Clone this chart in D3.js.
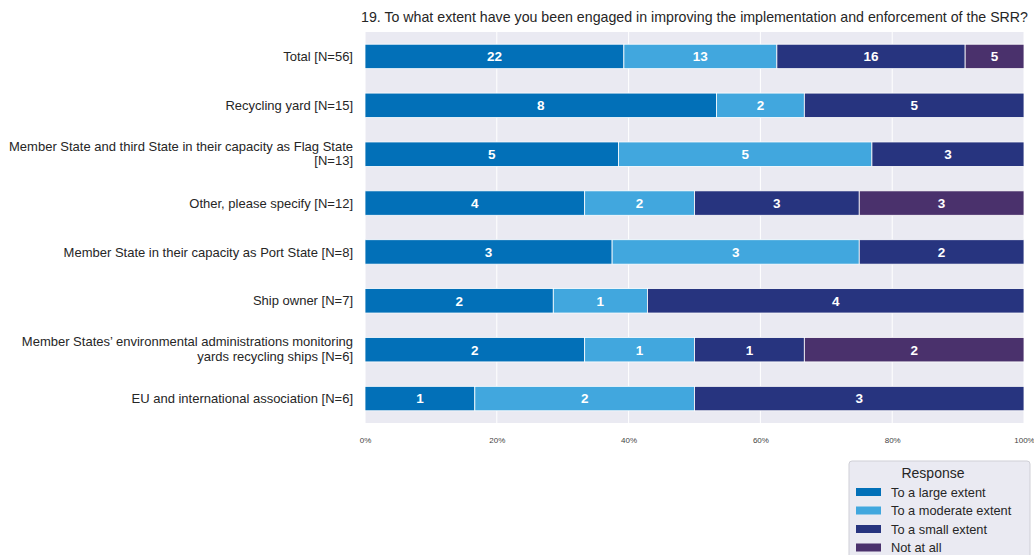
<!DOCTYPE html>
<html>
<head>
<meta charset="utf-8">
<script src="https://cdn.jsdelivr.net/npm/d3@7"></script>
<style>
  html, body { margin: 0; padding: 0; background: #fff; }
  svg { display: block; font-family: "Liberation Sans", Arial, sans-serif; }
</style>
</head>
<body>
<svg id="chart" width="1034" height="555"></svg>
<script>
// Survey groups, top to bottom
const categories = [
  ["Total [N=56]"],
  ["Recycling yard [N=15]"],
  ["Member State and third State in their capacity as Flag State", "[N=13]"],
  ["Other, please specify [N=12]"],
  ["Member State in their capacity as Port State [N=8]"],
  ["Ship owner [N=7]"],
  ["Member States’ environmental administrations monitoring", "yards recycling ships [N=6]"],
  ["EU and international association [N=6]"]
];
const responses = ["To a large extent", "To a moderate extent", "To a small extent", "Not at all"];
// Response counts per group (same order as responses)
const largeExtent    = [22, 8, 5, 4, 3, 2, 2, 1];
const moderateExtent = [13, 2, 5, 2, 3, 1, 1, 2];
const smallExtent    = [16, 5, 3, 3, 2, 4, 1, 3];
const notAtAll       = [ 5, 0, 0, 3, 0, 0, 2, 0];
const xTicks = [0, 0.2, 0.4, 0.6, 0.8, 1.0];
const colors = ["#0270b8", "#41a7de", "#27347f", "#4a316c"];
const title = "19. To what extent have you been engaged in improving the implementation and enforcement of the SRR?";

const series = [largeExtent, moderateExtent, smallExtent, notAtAll];
const rows = categories.map((c, i) => {
  const counts = series.map(s => s[i]);
  const total = d3.sum(counts);
  return { key: i, label: c, counts, total };
});

const svg = d3.select("#chart");
const m = { left: 365, right: 1024, top: 32, bottom: 423 };

const x = d3.scaleLinear().domain([0, 1]).range([m.left, m.right]);
const y = d3.scaleBand().domain(rows.map(r => r.key)).range([m.top, m.bottom]).paddingInner(0.5).paddingOuter(0.25);

// plot background
svg.append("rect")
  .attr("x", m.left).attr("y", m.top)
  .attr("width", m.right - m.left).attr("height", m.bottom - m.top)
  .attr("fill", "#eaeaf2");

// vertical grid lines
svg.append("g").selectAll("line").data(xTicks).join("line")
  .attr("x1", d => x(d)).attr("x2", d => x(d))
  .attr("y1", m.top).attr("y2", m.bottom)
  .attr("stroke", "#fff").attr("stroke-width", 1);

// stacked bars
const stackData = rows.map(r => {
  let acc = 0;
  return r.counts.map((v, j) => {
    const seg = { row: r.key, j, v, x0: acc / r.total, x1: (acc + v) / r.total };
    acc += v;
    return seg;
  }).filter(s => s.v > 0);
}).flat();

const segs = svg.append("g").selectAll("g").data(stackData).join("g");
segs.append("rect")
  .attr("x", d => x(d.x0))
  .attr("y", d => y(d.row))
  .attr("width", d => x(d.x1) - x(d.x0))
  .attr("height", y.bandwidth())
  .attr("fill", d => colors[d.j])
  .attr("stroke", "#fff").attr("stroke-width", 0.8);
segs.append("text")
  .attr("x", d => (x(d.x0) + x(d.x1)) / 2)
  .attr("y", d => y(d.row) + y.bandwidth() / 2)
  .attr("dy", "0.36em")
  .attr("text-anchor", "middle")
  .attr("fill", "#fff")
  .attr("font-weight", "bold")
  .attr("font-size", 13.5)
  .text(d => d.v);

// category labels
const lab = svg.append("g").selectAll("text").data(rows).join("text")
  .attr("text-anchor", "end")
  .attr("font-size", 13)
  .attr("fill", "#262626")
  .attr("x", 353)
  .attr("y", r => y(r.key) + y.bandwidth() / 2);
lab.selectAll("tspan").data(r => r.label.map((t, i, a) => ({ t, i, n: a.length }))).join("tspan")
  .attr("x", 353)
  .attr("dy", d => d.n === 1 ? "0.36em" : (d.i === 0 ? "-0.27em" : "1.12em"))
  .text(d => d.t);

// x axis
const xAxis = d3.axisBottom(x).tickValues(xTicks).tickFormat(d3.format(".0%")).tickSize(0).tickPadding(0);
const ax = svg.append("g").attr("transform", `translate(0, 440)`).call(xAxis);
ax.select(".domain").remove();
ax.selectAll("text").attr("font-size", 8).attr("fill", "#444").attr("dy", "0.32em")
  .attr("font-family", "'Liberation Sans Narrow', 'Liberation Sans', sans-serif");

// title
svg.append("text")
  .attr("x", (m.left + m.right) / 2).attr("y", 22)
  .attr("text-anchor", "middle")
  .attr("font-size", 14.2)
  .attr("fill", "#262626")
  .text(title);

// legend
const lg = svg.append("g").attr("transform", "translate(849, 461)");
lg.append("rect").attr("width", 181).attr("height", 100).attr("rx", 3)
  .attr("fill", "#eaeaf2").attr("stroke", "#cfcfd6");
lg.append("text").attr("x", 84).attr("y", 17).attr("text-anchor", "middle")
  .attr("font-size", 14).attr("fill", "#262626").text("Response");
const items = lg.selectAll("g.item").data(responses).join("g").attr("class", "item")
  .attr("transform", (d, i) => `translate(0, ${31 + i * 18.5})`);
items.append("rect").attr("x", 7).attr("y", -4).attr("width", 25).attr("height", 8)
  .attr("fill", (d, i) => colors[i]);
items.append("text").attr("x", 42).attr("dy", "0.36em")
  .attr("font-size", 12.8).attr("fill", "#262626").text(d => d);
</script>
</body>
</html>
